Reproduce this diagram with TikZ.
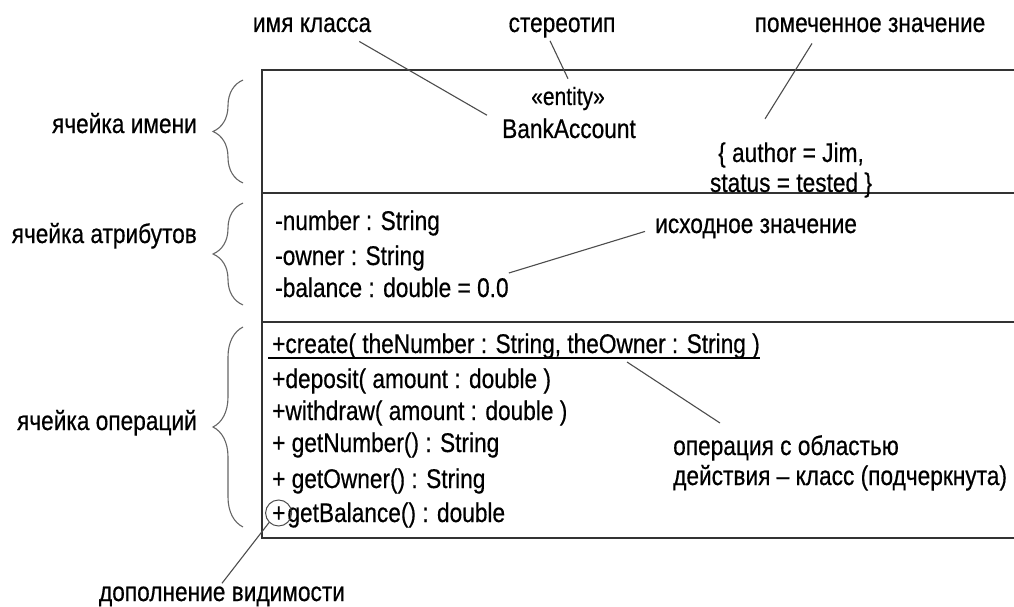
\documentclass[tikz,border=0pt]{standalone}
\usepackage{fontspec}
\setmainfont[FakeStretch=0.84,FakeBold=0.5]{Liberation Sans}
\usetikzlibrary{decorations.pathreplacing,positioning}
\tikzset{%
  cellbox/.style={draw=black!80,line width=1.8pt},
  member/.style={anchor=base west,inner sep=0pt},
  note/.style={anchor=base,inner sep=3pt},
  leader/.style={draw=black!70,line width=1.1pt},
  cellbrace/.style={draw=black!60,line width=1.1pt,decorate,decoration={brace,amplitude=30pt,aspect=0.5}}%
}
\begin{document}
\begin{tikzpicture}[x=1pt,y=-1pt,font=\fontsize{27}{30}\selectfont]
    \useasboundingbox (0,0) rectangle (1014,607);

    \draw[cellbox] (1020,70) -| (262,538) -- (1020,538);
    \draw[cellbox] (262,193) -- (1020,193) (262,322) -- (1020,322);

    \node (lbl class) [note] at (312,32) {имя класса};
    \node (lbl stereo) [note] at (562,32) {стереотип};
    \node (lbl tag) [note] at (870,32) {помеченное значение};

    \node (stereo) [note,font=\fontsize{25}{28}\selectfont] at (568,105) {«entity»};
    \node (name) [note] at (569,138) {BankAccount};
    \node (tag) [align=center] at (791,170) {\{ author = Jim,\\ status = tested \}};

    \node (attr1) [member] at (275,230) {-number : String};
    \node (attr2) [member] at (275,265) {-owner : String};
    \node (attr3) [member] at (275,297) {-balance : double = 0.0};
    \node (lbl init) [note,anchor=base west] at (652,233) {исходное значение};

    \node (op1) [member] at (272,353) {+create( theNumber : String, theOwner : String )};
    \node (op2) [member] at (272,388) {+deposit( amount : double )};
    \node (op3) [member] at (272,420) {+withdraw( amount : double )};
    \node (op4) [member] at (272,452) {+ getNumber() : String};
    \node (op5) [member] at (272,488) {+ getOwner() : String};
    \node (op6) [member] at (272,522) {+\kern2pt getBalance() : double};
    \node (vis) [circle,draw=black!70,line width=1pt,minimum size=26pt,inner sep=0pt] at ([xshift=6.6pt,yshift=9pt]op6.base west) {};
    \draw[line width=1.2pt] ([xshift=-4pt,yshift=-5pt]op1.base west) -- ([yshift=-5pt]op1.base east);

    \node (lbl scope) [align=left,anchor=north west,inner sep=3pt] at (670,432) {операция с областью\\действия – класс (подчеркнута)};
    \node (lbl vis) [note] at (222,601) {дополнение видимости};

    \node (lbl namecell) [note,anchor=base east] at (200,133) {ячейка имени};
    \node (lbl attrcell) [note,anchor=base east] at (200,243) {ячейка атрибутов};
    \node (lbl opcell) [note,anchor=base east] at (200,430) {ячейка операций};

    \draw[cellbrace] (243,183) -- (243,80);
    \draw[cellbrace] (243,305) -- (243,203);
    \draw[cellbrace] (243,527) -- (243,327);

    \path ([xshift=-15pt,yshift=-6pt]lbl class.south east) edge[leader] ([xshift=-12pt]name.north west)
          ([xshift=-12pt]lbl stereo.south) edge[leader] ([yshift=5pt]stereo.north)
          ([xshift=-58pt,yshift=-8pt]lbl tag.south) edge[leader] ([xshift=-26pt,yshift=20pt]tag.north);
    \path ([xshift=-7pt,yshift=-3pt]lbl init.west) edge[leader] ([yshift=24pt]attr3.base east);
    \path ([xshift=-133pt,yshift=-9pt]op1.base east) edge[leader] ([xshift=50pt,yshift=9pt]lbl scope.north west);
    \path (vis.225) edge[leader] (lbl vis.north);

\end{tikzpicture}
\end{document}
